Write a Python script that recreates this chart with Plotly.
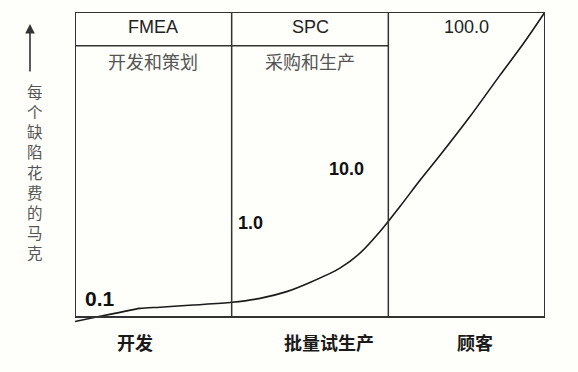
import plotly.graph_objects as go

# Data: cost curve (x = stage position 0..3, y = relative cost index 0..100)
curve_x = [0.0, 0.160, 0.287, 0.415, 0.543, 0.755, 1.002, 1.181, 1.351, 1.500, 1.691,
           1.819, 1.947, 2.074, 2.202, 2.330, 2.521, 2.713, 2.860, 3.0]
curve_y = [-1.5, 0.2, 1.5, 2.8, 3.2, 3.9, 4.8, 6.1, 8.3, 11.3, 16.0,
           20.9, 28.0, 36.2, 44.8, 53.0, 65.7, 79.3, 89.5, 100.0]

header_labels = ["FMEA", "SPC", "100.0"]
phase_labels = ["开发和策划", "采购和生产"]
stage_labels = ["开发", "批量试生产", "顾客"]
stage_x = [0.381, 1.62, 2.553]
cost_labels = ["0.1", "1.0", "10.0"]
cost_x = [0.16, 1.123, 1.732]
cost_y = [5.9, 30.8, 48.4]
cost_sizes = [21, 18, 18]
y_title = "每个缺陷花费的马克"

BG = "#fefefb"
LINE = "#333333"
CJK = "Noto Sans CJK SC"
LAT = "Liberation Sans, Arial, sans-serif"

# plot area in pixels: left 75, top 12, width 470, height 315
def px_x(px):
    return (px - 75) / 470.0

def px_y(py):
    return (327 - py) / 315.0

fig = go.Figure()
fig.add_trace(go.Scatter(x=curve_x, y=curve_y, mode="lines",
                         line=dict(color="#1a1a1a", width=1.6, shape="spline", smoothing=0.8),
                         hoverinfo="skip", showlegend=False))

shapes = [
    dict(type="rect", xref="x", yref="y", x0=0, x1=3, y0=0, y1=100,
         line=dict(color=LINE, width=2)),
    dict(type="line", xref="x", yref="y", x0=1, x1=1, y0=0, y1=100,
         line=dict(color=LINE, width=1.5)),
    dict(type="line", xref="x", yref="y", x0=2, x1=2, y0=0, y1=100,
         line=dict(color=LINE, width=1.5)),
    dict(type="line", xref="x", yref="y", x0=0, x1=2, y0=88.95, y1=88.95,
         line=dict(color=LINE, width=1.5)),
]

ann = []
for i, t in enumerate(header_labels):
    ann.append(dict(x=0.5 + i, y=95.2, xref="x", yref="y", text=t, showarrow=False,
                    font=dict(family=LAT, size=18, color="#222222")))
for i, t in enumerate(phase_labels):
    ann.append(dict(x=0.5 + i, y=83.9, xref="x", yref="y", text=t, showarrow=False,
                    font=dict(family=CJK, size=18, color="#555555")))
for t, xx in zip(stage_labels, stage_x):
    ann.append(dict(x=xx / 3.0, y=px_y(342), xref="paper", yref="paper", text=t,
                    showarrow=False, xanchor="center", yanchor="middle",
                    font=dict(family=CJK, size=18, color="#1a1a1a", weight="bold")))
for t, xx, yy, s in zip(cost_labels, cost_x, cost_y, cost_sizes):
    ann.append(dict(x=xx, y=yy, xref="x", yref="y", text=t, showarrow=False,
                    font=dict(family=LAT, size=s, color="#111111", weight="bold")))
# vertical y title, stacked characters
ann.append(dict(x=px_x(35), y=px_y(171), xref="paper", yref="paper",
                text="<br>".join(y_title), showarrow=False,
                xanchor="center", yanchor="middle",
                font=dict(family=CJK, size=15.5, color="#555555")))
# arrow
ann.append(dict(x=px_x(30), y=px_y(24), xref="paper", yref="paper", text="",
                showarrow=True, ax=0, ay=49, arrowhead=2, arrowsize=1.2,
                arrowwidth=1.6, arrowcolor=LINE))

fig.update_layout(
    width=578, height=372,
    margin=dict(l=75, r=33, t=12, b=45),
    paper_bgcolor=BG, plot_bgcolor=BG,
    xaxis=dict(range=[0, 3], visible=False, fixedrange=True),
    yaxis=dict(range=[-3.3, 100], visible=False, fixedrange=True),
    shapes=shapes, annotations=ann, showlegend=False,
)
fig.write_html("out.html", config={"displayModeBar": False},
               post_script="document.body.style.margin='0px';document.body.style.background='" + BG + "';")
